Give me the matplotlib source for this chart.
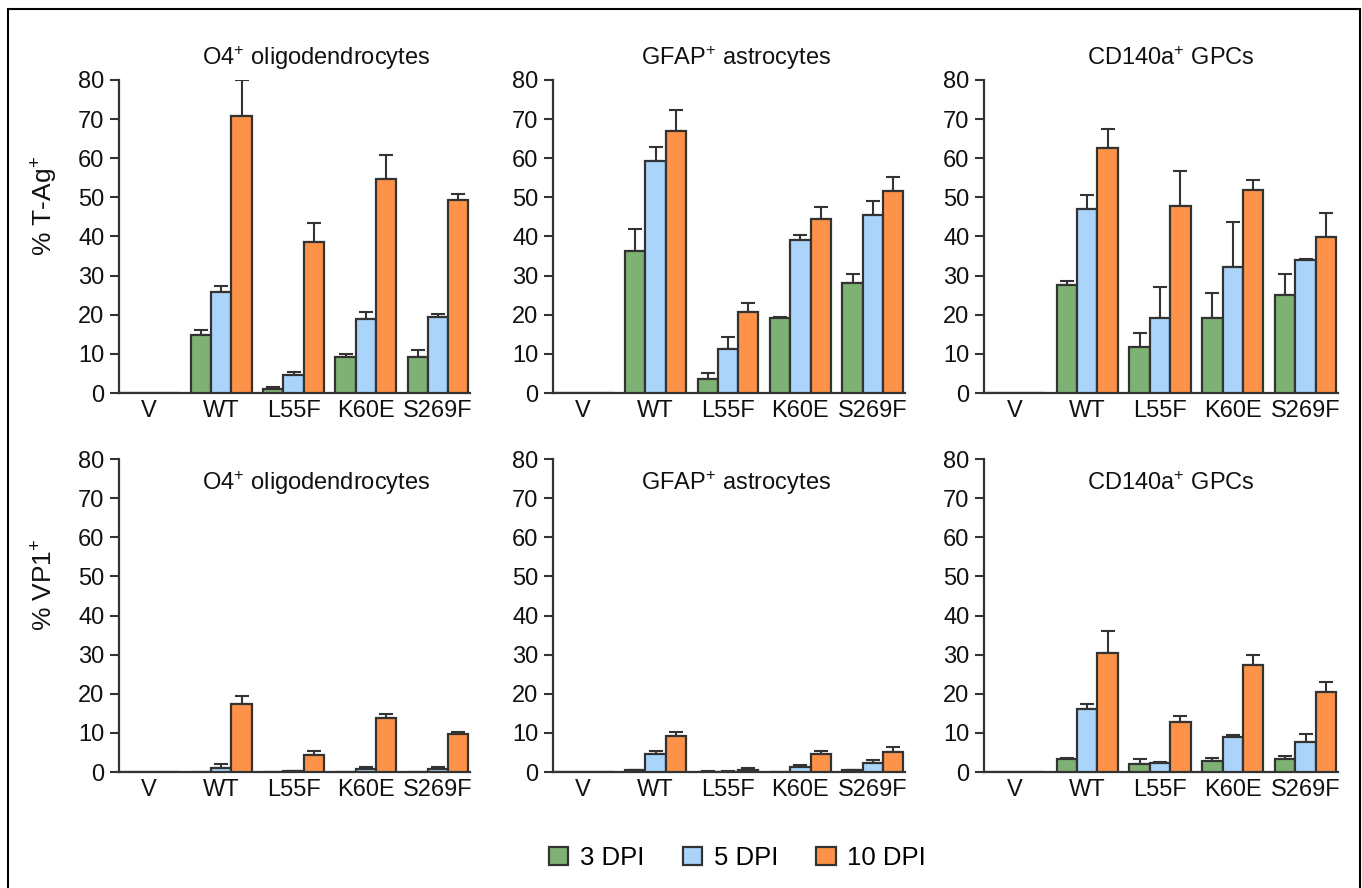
import matplotlib
matplotlib.use('Agg')
import matplotlib.pyplot as plt
import numpy as np
from matplotlib.patches import Patch, Rectangle

plt.rcParams['font.family'] = ['Liberation Sans', 'DejaVu Sans']
plt.rcParams['mathtext.fontset'] = 'custom'
plt.rcParams['mathtext.rm'] = 'Liberation Sans'
plt.rcParams['mathtext.it'] = 'Liberation Sans:italic'
plt.rcParams['mathtext.bf'] = 'Liberation Sans:bold'

categories = ['V', 'WT', 'L55F', 'K60E', 'S269F']
series = ['3 DPI', '5 DPI', '10 DPI']
colors = ['#7EB275', '#AAD4FA', '#FD9248']

# rows: 3 DPI, 5 DPI, 10 DPI
tag_o4 = [[0, 14.9, 0.9, 9.1, 9.1],
          [0, 25.8, 4.7, 19.0, 19.3],
          [0, 70.8, 38.6, 54.6, 49.3]]
tag_o4_err = [[0, 1.3, 0.6, 0.9, 1.8],
              [0, 1.6, 0.7, 1.7, 1.0],
              [0, 9.2, 4.8, 6.3, 1.6]]

tag_gfap = [[0, 36.3, 3.7, 19.1, 28.0],
            [0, 59.3, 11.3, 39.2, 45.6],
            [0, 67.0, 20.6, 44.6, 51.7]]
tag_gfap_err = [[0, 5.7, 1.5, 0.4, 2.5],
                [0, 3.5, 3.1, 1.1, 3.5],
                [0, 5.4, 2.5, 2.9, 3.5]]

tag_cd140 = [[0, 27.7, 11.8, 19.1, 25.1],
             [0, 47.0, 19.1, 32.1, 34.0],
             [0, 62.6, 47.9, 51.9, 39.9]]
tag_cd140_err = [[0, 1.0, 3.6, 6.5, 5.2],
                 [0, 3.5, 7.9, 11.5, 0.2],
                 [0, 5.0, 8.8, 2.5, 6.0]]

vp1_o4 = [[0, 0, 0, 0, 0],
          [0, 1.0, 0.2, 0.7, 0.7],
          [0, 17.4, 4.3, 13.8, 9.6]]
vp1_o4_err = [[0, 0, 0, 0, 0],
              [0, 1.1, 0.1, 0.6, 0.5],
              [0, 2.1, 1.1, 1.0, 0.6]]

vp1_gfap = [[0, 0.4, 0.1, 0, 0.4],
            [0, 4.7, 0.1, 1.3, 2.3],
            [0, 9.3, 0.6, 4.5, 5.2]]
vp1_gfap_err = [[0, 0.2, 0.1, 0, 0.2],
                [0, 0.6, 0.1, 0.4, 0.7],
                [0, 0.8, 0.5, 0.8, 1.3]]

vp1_cd140 = [[0, 3.2, 2.0, 2.8, 3.2],
             [0, 16.1, 2.4, 9.0, 7.7],
             [0, 30.4, 12.8, 27.3, 20.5]]
vp1_cd140_err = [[0, 0.5, 1.4, 0.8, 0.8],
                 [0, 1.4, 0.2, 0.4, 1.9],
                 [0, 5.6, 1.6, 2.5, 2.4]]

titles = ['O4$^{+}$ oligodendrocytes', 'GFAP$^{+}$ astrocytes', 'CD140a$^{+}$ GPCs']
title_x = [0.561, 0.521, 0.527]

panels = [[(tag_o4, tag_o4_err), (tag_gfap, tag_gfap_err), (tag_cd140, tag_cd140_err)],
          [(vp1_o4, vp1_o4_err), (vp1_gfap, vp1_gfap_err), (vp1_cd140, vp1_cd140_err)]]

W, H = 1362, 888
fig = plt.figure(figsize=(W / 100, H / 100), dpi=100)

lefts = [119, 553, 984]
widths = [351, 352, 354]
bottoms = [393, 772]
ax_h = 313

edge = '#333333'
txt = '#111111'
bar_w = 0.28
x = np.arange(len(categories))

for r in range(2):
    for c in range(3):
        ax = fig.add_axes([lefts[c] / W, 1 - bottoms[r] / H, widths[c] / W, ax_h / H])
        means, errs = panels[r][c]
        for i in range(3):
            m = np.array(means[i], dtype=float)
            e = np.array(errs[i], dtype=float)
            xs = x + (i - 1) * bar_w
            ax.bar(xs, m, width=bar_w, color=colors[i], edgecolor=edge, linewidth=1.6, zorder=3)
            keep = m > 0
            ax.errorbar(xs[keep], m[keep], yerr=[np.zeros(keep.sum()), e[keep]], fmt='none',
                        ecolor=edge, elinewidth=1.5, capsize=5, capthick=1.5, zorder=2)
        ax.set_xlim(-0.417, 4.444)
        ax.set_ylim(0, 80)
        ax.set_yticks(np.arange(0, 81, 10))
        ax.set_xticks(x)
        ax.set_xticklabels(categories)
        ax.tick_params(axis='x', length=0, pad=5, labelsize=17, colors=txt)
        ax.tick_params(axis='y', length=6.5, width=1.5, pad=4, labelsize=17, color=edge,
                       labelcolor=txt)
        for s in ['top', 'right']:
            ax.spines[s].set_visible(False)
        for s in ['left', 'bottom']:
            ax.spines[s].set_color(edge)
            ax.spines[s].set_linewidth(1.6)
        ty = 1.07 if r == 0 else 0.923
        ax.text(title_x[c], ty, titles[c], transform=ax.transAxes, ha='center', va='center',
                fontsize=17, color=txt)

fig.text(45 / W, 1 - 206 / H, '% T-Ag$^{+}$', rotation=90, ha='center', va='center',
         fontsize=19, color=txt)
fig.text(45 / W, 1 - 585 / H, '% VP1$^{+}$', rotation=90, ha='center', va='center',
         fontsize=19, color=txt)

handles = [Patch(facecolor=colors[i], edgecolor=edge, linewidth=1.6) for i in range(3)]
fig.legend(handles, series, loc='center', bbox_to_anchor=(737.5 / W, 1 - 858 / H), ncol=3,
           frameon=False, fontsize=18.5, handlelength=0.75, handleheight=0.75,
           handletextpad=0.45, columnspacing=1.5)

# frame around the whole figure
fig.patches.append(Rectangle((8 / W, -0.01), (1360 - 8) / W, 1.01 - 9 / H, transform=fig.transFigure,
                             fill=False, edgecolor='black', linewidth=1.5))

fig.savefig('out.png', dpi=100)
